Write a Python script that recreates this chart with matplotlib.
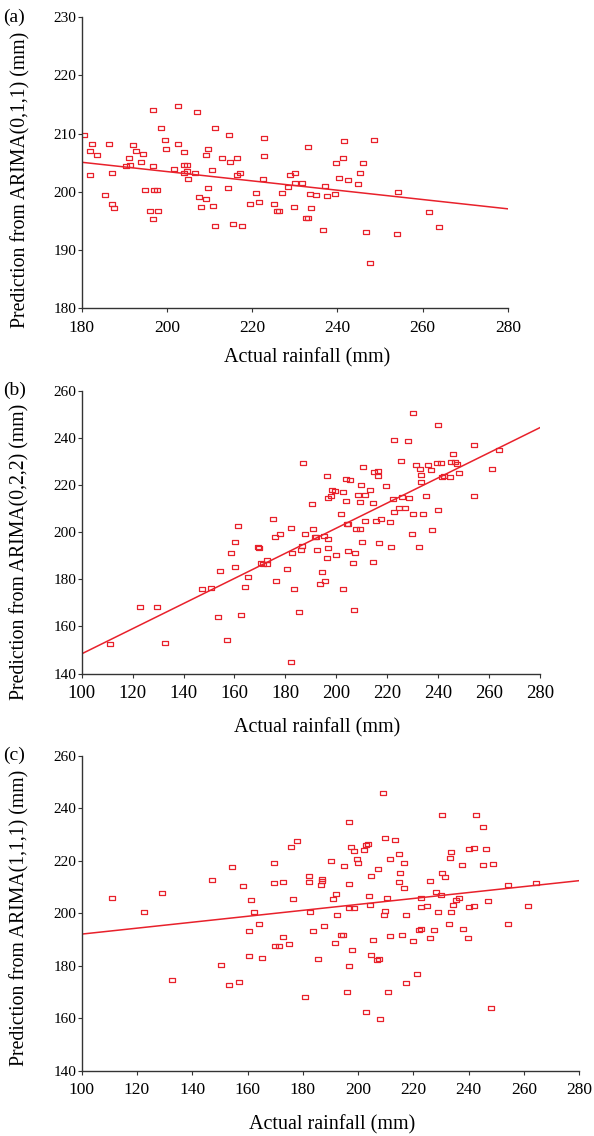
import matplotlib
matplotlib.use('Agg')
import matplotlib.pyplot as plt
import numpy as np

plt.rcParams['font.family'] = ['Liberation Serif', 'DejaVu Serif']

# (a) ARIMA(0,1,1)
a_actual = [180.5, 182.0, 182.5, 183.5, 182.0, 186.4, 185.4, 187.0, 187.0, 187.5,
            190.3, 191.3, 191.1, 192.1, 192.7, 193.8, 194.3, 194.8, 196.7, 196.7,
            197.0, 197.7, 196.0, 196.7, 198.0, 198.5, 199.6, 199.8, 201.6, 202.6,
            202.6, 203.9, 203.9, 204.8, 203.9, 204.8, 205.0, 206.6, 207.0, 209.2,
            209.7, 210.5, 209.7, 207.6, 209.1, 208.1, 210.7, 211.2, 211.2, 212.8,
            214.6, 214.9, 214.4, 215.4, 216.5, 216.5, 217.1, 217.5, 219.6, 220.9,
            221.7, 222.8, 222.8, 222.5, 225.0, 225.9, 226.3, 227.1, 228.3, 228.8,
            230.1, 230.1, 231.6, 229.8, 232.6, 233.2, 233.2, 233.5, 235.0, 233.8,
            236.5, 237.0, 237.6, 239.4, 240.3, 242.4, 241.6, 241.4, 239.7, 246.0,
            245.3, 244.7, 248.6, 246.6, 247.6, 254.1, 253.9, 261.5, 263.8]
a_pred = [209.7, 207.1, 208.2, 206.3, 202.9, 208.2, 199.5, 203.3, 198.0, 197.3,
          204.4, 204.6, 205.8, 208.0, 207.1, 205.1, 206.6, 200.3, 214.0, 204.4,
          200.3, 200.3, 196.7, 195.3, 196.8, 210.9, 209.0, 207.4, 203.9, 214.7,
          208.2, 206.8, 204.6, 204.6, 203.3, 203.6, 202.2, 203.3, 213.7, 206.3,
          207.3, 203.8, 200.6, 199.1, 198.8, 197.5, 197.6, 210.9, 194.1, 205.8,
          209.8, 205.1, 200.6, 194.5, 205.8, 202.9, 203.3, 194.1, 198.0, 199.8,
          198.2, 209.3, 206.2, 202.2, 197.9, 196.7, 196.7, 199.8, 200.8, 202.9,
          203.3, 201.5, 201.6, 197.5, 195.5, 195.5, 207.7, 199.6, 199.5, 197.3,
          193.5, 201.1, 199.3, 199.6, 202.4, 202.0, 208.7, 205.8, 205.0, 205.0,
          203.2, 201.3, 209.0, 193.1, 187.8, 200.0, 192.8, 196.5, 193.9]
a_fit = [-0.080, 219.5]  # slope, intercept

# (b) ARIMA(0,2,2)
b_actual = [111.1, 122.8, 129.5, 132.9, 147.4, 150.6, 153.5, 154.4, 157.1, 158.6,
            160.4, 160.4, 161.4, 162.4, 164.3, 165.4, 169.4, 169.6, 170.3, 171.4,
            172.7, 172.7, 175.1, 175.9, 176.5, 177.9, 180.6, 182.1, 182.6, 183.5,
            182.1, 185.3, 186.8, 187.8, 186.6, 186.2, 190.4, 190.9, 191.5, 192.2,
            192.4, 194.2, 193.7, 195.6, 195.2, 196.3, 196.9, 196.7, 196.7, 196.3,
            198.2, 199.5, 197.9, 199.8, 202.7, 201.8, 202.7, 203.7, 205.3, 203.7,
            204.1, 204.6, 204.6, 207.4, 206.4, 207.0, 207.6, 209.5, 210.2, 208.7,
            209.2, 209.7, 211.3, 210.6, 211.3, 213.1, 214.5, 214.5, 215.4, 214.9,
            216.4, 216.4, 216.9, 217.4, 219.6, 221.1, 221.4, 222.5, 222.4, 222.5,
            224.8, 226.9, 225.9, 225.6, 228.0, 228.6, 230.1, 230.0, 229.6, 231.4,
            232.8, 233.3, 233.3, 232.4, 233.9, 235.2, 236.0, 237.1, 237.5, 239.4,
            239.9, 239.9, 241.3, 241.7, 242.2, 244.6, 244.9, 245.9, 246.6, 247.4,
            248.3, 254.0, 254.0, 261.0, 263.9]
b_pred = [152.7, 168.2, 168.2, 152.9, 175.8, 176.5, 164.2, 183.7, 154.2, 191.1,
          196.0, 185.1, 202.8, 164.9, 176.9, 180.8, 193.8, 193.4, 187.1, 186.6,
          188.0, 186.4, 205.6, 197.9, 179.2, 199.1, 184.3, 201.9, 191.1, 175.8,
          144.9, 166.2, 229.2, 199.1, 194.2, 192.3, 212.0, 201.2, 198.0, 198.0,
          192.3, 183.2, 177.9, 179.2, 198.4, 224.0, 214.4, 197.1, 193.2, 189.1,
          217.9, 217.6, 215.2, 190.4, 175.8, 207.6, 216.9, 222.7, 222.0, 213.1,
          203.5, 203.5, 191.9, 191.1, 187.1, 166.9, 201.5, 201.5, 196.0, 215.9,
          212.7, 219.9, 215.9, 227.5, 204.8, 217.9, 187.5, 212.3, 204.8, 225.3,
          226.1, 223.8, 195.5, 205.5, 219.6, 204.1, 193.9, 239.1, 214.0, 208.7,
          210.4, 210.4, 214.7, 230.1, 238.8, 214.4, 250.4, 207.9, 199.1, 228.6,
          226.7, 224.1, 221.2, 193.6, 207.9, 215.5, 228.6, 226.4, 200.8, 229.2,
          245.5, 209.6, 229.5, 223.3, 223.8, 223.6, 229.9, 233.0, 229.9, 228.8,
          225.1, 237.1, 215.2, 226.7, 234.7]
b_fit = [0.533, 95.1]

# (c) ARIMA(1,1,1)
c_actual = [110.9, 122.7, 129.2, 132.7, 147.1, 150.5, 153.3, 154.2, 157.0, 158.3,
            160.4, 160.4, 161.2, 162.2, 164.1, 165.1, 169.4, 169.4, 169.9, 171.2,
            172.7, 172.7, 175.0, 175.9, 176.4, 178.0, 180.8, 182.1, 182.1, 182.5,
            183.5, 185.5, 186.4, 186.9, 187.0, 187.8, 190.3, 192.0, 191.0, 192.5,
            191.5, 193.9, 194.4, 194.9, 195.8, 196.8, 196.8, 196.8, 197.3, 197.8,
            196.8, 198.5, 198.5, 199.5, 200.1, 202.0, 202.7, 203.7, 203.0, 204.0,
            204.3, 204.8, 205.3, 204.8, 206.7, 207.7, 207.2, 208.0, 209.1, 209.9,
            209.4, 209.9, 210.4, 211.4, 210.9, 211.4, 213.3, 214.7, 214.7, 215.3,
            215.8, 216.6, 216.6, 217.5, 217.2, 220.0, 221.3, 221.9, 222.6, 222.7,
            222.7, 225.0, 225.9, 226.1, 227.4, 228.3, 228.9, 229.9, 230.3, 230.3,
            231.6, 232.7, 233.2, 233.7, 234.2, 233.6, 235.4, 236.5, 237.4, 237.9,
            239.8, 240.1, 240.2, 241.8, 242.0, 242.6, 245.0, 245.2, 246.4, 246.9,
            247.9, 248.8, 254.4, 254.4, 261.5, 264.3]
c_pred = [205.9, 200.7, 207.9, 174.7, 212.7, 180.3, 172.7, 217.5, 173.9, 210.3,
          193.1, 183.8, 205.1, 200.7, 195.9, 183.1, 219.2, 211.5, 187.5, 187.5,
          211.8, 191.1, 188.3, 225.1, 205.4, 227.6, 168.2, 214.4, 211.8, 200.7,
          193.1, 182.7, 210.7, 213.0, 212.3, 195.1, 219.9, 207.5, 205.5, 199.5,
          188.6, 191.7, 191.7, 217.9, 170.0, 234.7, 211.2, 202.0, 225.1, 186.0,
          179.9, 223.9, 202.2, 220.7, 219.2, 224.0, 225.9, 226.3, 162.3, 206.6,
          203.1, 214.4, 189.9, 184.3, 182.3, 182.7, 216.9, 159.9, 245.7, 228.8,
          199.5, 200.8, 205.8, 191.2, 169.9, 220.5, 227.9, 222.7, 211.8, 215.5,
          191.6, 219.2, 209.7, 199.2, 173.6, 189.5, 177.1, 193.6, 194.0, 206.0,
          202.3, 202.7, 212.3, 190.7, 193.6, 208.3, 200.4, 206.8, 237.6, 215.5,
          214.0, 195.9, 221.1, 223.5, 203.1, 200.4, 205.0, 206.0, 218.3, 194.2,
          190.8, 202.3, 224.3, 202.7, 224.7, 237.6, 232.7, 218.3, 224.3, 204.7,
          163.9, 218.7, 210.7, 195.9, 202.7, 211.5]
c_fit = [0.113, 180.8]

red = '#e8212b'
box = [(-1, -0.72), (1, -0.72), (1, 0.72), (-1, 0.72), (-1, -0.72)]

# tag, ylabel, x, y, fit, xlim, ylim, ystep, rect, xtick size, xlabel pad, xlabel x, ylabel coords
panels = [
    ('(a)', 'Prediction from ARIMA(0,1,1) (mm)', a_actual, a_pred, a_fit,
     (180, 280), (180, 230), 10, [0.1375, 0.7285, 0.7177, 0.2563], 12.5, 9, 0.528, (-0.121, 0.44)),
    ('(b)', 'Prediction from ARIMA(0,2,2) (mm)', b_actual, b_pred, b_fit,
     (100, 280), (140, 260), 20, [0.1375, 0.4070, 0.7716, 0.2491], 13.5, 12, 0.513, (-0.113, 0.43)),
    ('(c)', 'Prediction from ARIMA(1,1,1) (mm)', c_actual, c_pred, c_fit,
     (100, 280), (140, 260), 20, [0.1375, 0.0572, 0.8377, 0.2776], 12.5, 12, 0.503, (-0.104, 0.485)),
]

fig = plt.figure(figsize=(5.94, 11.36), dpi=100)

for tag, ylab, xs, ys, fit, xl, yl, ystep, rect, xfs, xpad, xlx, ylc in panels:
    ax = fig.add_axes(rect)
    ax.plot(xs, ys, linestyle='none', marker=box, markersize=4.6,
            markerfacecolor='none', markeredgecolor=red, markeredgewidth=0.9)
    lx = np.array(xl, dtype=float)
    ax.plot(lx, fit[0] * lx + fit[1], color=red, lw=1.1)
    ax.set_xlim(xl)
    ax.set_ylim(yl)
    ax.set_xticks(np.arange(xl[0], xl[1] + 1, 20))
    ax.set_yticks(np.arange(yl[0], yl[1] + 1, ystep))
    for s in ['top', 'right']:
        ax.spines[s].set_visible(False)
    for s in ['left', 'bottom']:
        ax.spines[s].set_color('#333333')
        ax.spines[s].set_linewidth(1.0)
    ax.tick_params(axis='x', labelsize=xfs, length=3, width=0.8, color='#333333', pad=5)
    ax.tick_params(axis='y', labelsize=11, length=3, width=0.8, color='#333333', pad=1)
    ax.set_xlabel('Actual rainfall (mm)', fontsize=14.5, labelpad=xpad)
    ax.xaxis.label.set_x(xlx)
    ax.set_ylabel(ylab, fontsize=14.2)
    ax.yaxis.set_label_coords(*ylc)
    pos = ax.get_position()
    fig.text(0.005, pos.y1, tag, fontsize=14, ha='left', va='center')

fig.savefig('out.png', dpi=100)
